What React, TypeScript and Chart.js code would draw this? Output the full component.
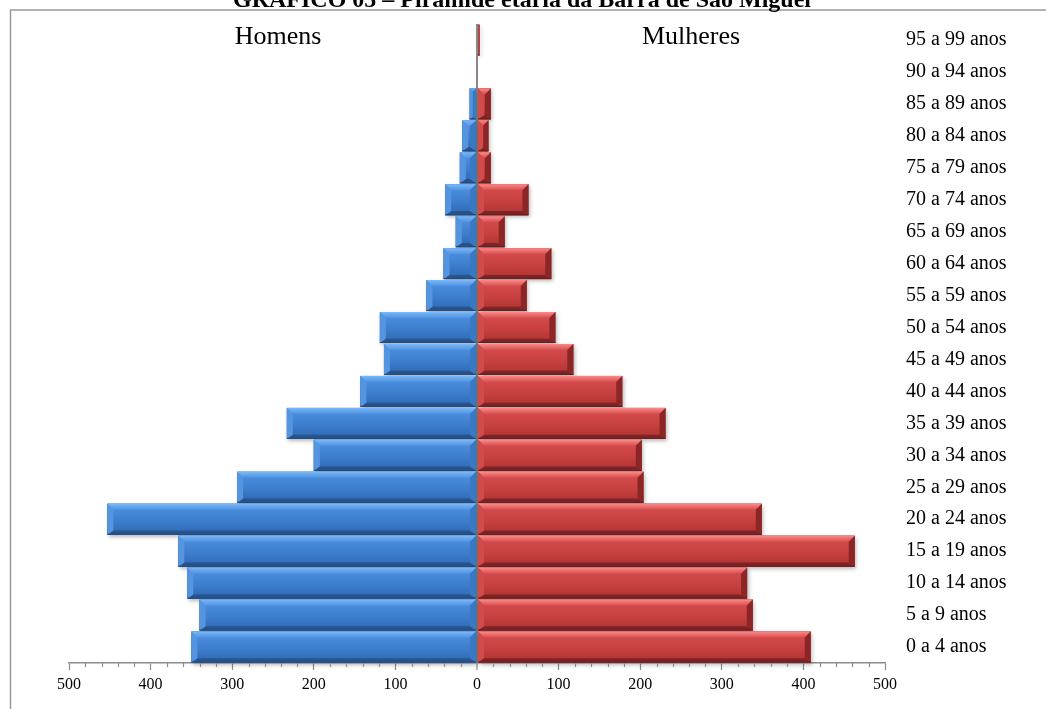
import React, { useEffect, useRef } from "react";
import { Chart, registerables } from "chart.js";

Chart.register(...registerables);

// ---- data ----
const ageGroups = [
  "0 a 4 anos", "5 a 9 anos", "10 a 14 anos", "15 a 19 anos", "20 a 24 anos",
  "25 a 29 anos", "30 a 34 anos", "35 a 39 anos", "40 a 44 anos", "45 a 49 anos",
  "50 a 54 anos", "55 a 59 anos", "60 a 64 anos", "65 a 69 anos", "70 a 74 anos",
  "75 a 79 anos", "80 a 84 anos", "85 a 89 anos", "90 a 94 anos", "95 a 99 anos",
];
const menValues = [350, 340, 355, 366, 453, 294, 200, 233, 143, 114, 119, 62, 41, 26, 39, 21, 18, 9, 0, 0];
const womenValues = [409, 338, 331, 463, 349, 204, 202, 231, 178, 118, 96, 61, 91, 34, 63, 17, 14, 17, 1, 3];
const seriesNames = ["Homens", "Mulheres"];
const chartTitle = "GRÁFICO 05 – Pirâmide etária da Barra de São Miguel";
const axisMin = -500;
const axisMax = 500;
const majorStep = 100;
const minorStep = 20;

const FONT = "'Liberation Serif', 'Times New Roman', serif";
const AXIS_GRAY = "#8c8c8c";

const palettes = [
  { base: "#3d7ecf", light: "#7ab8f8", top: "#4f93e2", bottom: "#2f66ab", dark: "#214a82", left: "#5595e0", right: "#3a78c4" },
  { base: "#c84040", light: "#fa8a8a", top: "#d84e4e", bottom: "#aa3333", dark: "#6c1b1b", left: "#d04c4c", right: "#8c2626" },
];

const bevelPlugin = {
  id: "bevelBars",
  afterDatasetsDraw(chart: any) {
    const ctx: CanvasRenderingContext2D = chart.ctx;
    const bars: any[] = [];
    chart.data.datasets.forEach((_: any, di: number) => {
      const meta = chart.getDatasetMeta(di);
      meta.data.forEach((el: any) => {
        const p = el.getProps(["x", "y", "base", "height"], true);
        const l = Math.min(p.x, p.base);
        const r = Math.max(p.x, p.base);
        const t = p.y - p.height / 2;
        const b = p.y + p.height / 2;
        if (r - l < 0.3) return;
        bars.push({ l, r, t, b, pal: palettes[di] });
      });
    });
    ctx.save();
    // shadows
    bars.forEach(({ l, r, t, b }) => {
      ctx.save();
      ctx.shadowColor = "rgba(0,0,0,0.28)";
      ctx.shadowBlur = 4;
      ctx.shadowOffsetX = 1.5;
      ctx.shadowOffsetY = 2;
      ctx.fillStyle = "#888";
      ctx.fillRect(l, t, r - l, b - t);
      ctx.restore();
    });
    // bodies
    bars.forEach(({ l, r, t, b, pal }) => {
      const w = r - l;
      const h = b - t;
      const bv = Math.max(0.5, Math.min(6, w / 2, h / 4));
      const g = ctx.createLinearGradient(0, t, 0, b);
      g.addColorStop(0, pal.top);
      g.addColorStop(0.55, pal.base);
      g.addColorStop(1, pal.bottom);
      ctx.fillStyle = g;
      ctx.fillRect(l, t, w, h);
      // top bevel
      const gt = ctx.createLinearGradient(0, t, 0, t + bv);
      gt.addColorStop(0, pal.light);
      gt.addColorStop(1, pal.top);
      ctx.fillStyle = gt;
      ctx.beginPath();
      ctx.moveTo(l, t); ctx.lineTo(r, t); ctx.lineTo(r - bv, t + bv); ctx.lineTo(l + bv, t + bv); ctx.closePath();
      ctx.fill();
      // bottom bevel
      ctx.fillStyle = pal.dark;
      ctx.globalAlpha = 0.7;
      ctx.beginPath();
      ctx.moveTo(l, b); ctx.lineTo(r, b); ctx.lineTo(r - bv, b - bv * 0.7); ctx.lineTo(l + bv, b - bv * 0.7); ctx.closePath();
      ctx.fill();
      ctx.globalAlpha = 1;
      // left bevel
      ctx.fillStyle = pal.left;
      ctx.beginPath();
      ctx.moveTo(l, t); ctx.lineTo(l + bv, t + bv); ctx.lineTo(l + bv, b - bv * 0.7); ctx.lineTo(l, b); ctx.closePath();
      ctx.fill();
      // right bevel
      ctx.fillStyle = pal.right;
      ctx.beginPath();
      ctx.moveTo(r, t); ctx.lineTo(r - bv, t + bv); ctx.lineTo(r - bv, b - bv * 0.7); ctx.lineTo(r, b); ctx.closePath();
      ctx.fill();
      // edge line
      ctx.strokeStyle = pal.dark;
      ctx.lineWidth = 1;
      ctx.beginPath();
      ctx.moveTo(l, b - 0.5); ctx.lineTo(r, b - 0.5);
      ctx.stroke();
    });
    ctx.restore();
  },
};

const decorPlugin = {
  id: "decor",
  beforeDraw(chart: any) {
    const ctx: CanvasRenderingContext2D = chart.ctx;
    ctx.save();
    ctx.strokeStyle = "#9a9a9a";
    ctx.lineWidth = 1.5;
    ctx.beginPath();
    ctx.moveTo(10.5, chart.height);
    ctx.lineTo(10.5, 10);
    ctx.lineTo(chart.width, 10);
    ctx.stroke();
    ctx.restore();
  },
  afterDraw(chart: any) {
    const ctx: CanvasRenderingContext2D = chart.ctx;
    const xs = chart.scales.x;
    ctx.save();
    // minor ticks
    ctx.strokeStyle = AXIS_GRAY;
    ctx.lineWidth = 1.2;
    for (let v = axisMin; v <= axisMax; v += minorStep) {
      if (v % majorStep === 0) continue;
      const px = Math.round(xs.getPixelForValue(v)) + 0.5;
      ctx.beginPath();
      ctx.moveTo(px, xs.top);
      ctx.lineTo(px, xs.top + 4);
      ctx.stroke();
    }
    // title
    ctx.fillStyle = "#000";
    ctx.textAlign = "center";
    ctx.textBaseline = "alphabetic";
    ctx.font = `bold 24px ${FONT}`;
    ctx.fillText(chartTitle, 522, 7);
    // side labels
    ctx.font = `26px ${FONT}`;
    ctx.fillText(seriesNames[0], 278, 44);
    ctx.fillText(seriesNames[1], 691, 44);
    ctx.restore();
  },
};

export default function App() {
  const canvasRef = useRef<HTMLCanvasElement | null>(null);

  useEffect(() => {
    if (!canvasRef.current) return;
    Chart.defaults.font.family = FONT;
    const chart = new Chart(canvasRef.current, {
      type: "bar",
      data: {
        labels: ageGroups,
        datasets: [
          {
            label: seriesNames[0],
            data: menValues.map((v) => -v),
            backgroundColor: palettes[0].base,
            borderWidth: 0,
            categoryPercentage: 1,
            barPercentage: 0.97,
          },
          {
            label: seriesNames[1],
            data: womenValues,
            backgroundColor: palettes[1].base,
            borderWidth: 0,
            categoryPercentage: 1,
            barPercentage: 0.97,
          },
        ],
      },
      options: {
        indexAxis: "y",
        responsive: false,
        animation: false,
        layout: { padding: { left: 69, top: 24, right: 0, bottom: 0 } },
        plugins: {
          legend: { display: false },
          tooltip: { enabled: false },
          title: { display: false },
        },
        scales: {
          x: {
            type: "linear",
            min: axisMin,
            max: axisMax,
            stacked: true,
            z: 1,
            ticks: {
              stepSize: majorStep,
              autoSkip: false,
              maxRotation: 0,
              padding: 5,
              color: "#000",
              font: { family: FONT, size: 16 },
              callback: (v: any) => String(Math.abs(Number(v))),
            },
            grid: {
              drawOnChartArea: true,
              color: (c: any) => (c.tick && c.tick.value === 0 ? AXIS_GRAY : "rgba(0,0,0,0)"),
              lineWidth: (c: any) => (c.tick && c.tick.value === 0 ? 2 : 1),
              tickColor: AXIS_GRAY,
              tickLength: 7,
              tickWidth: 1.2,
            },
            border: { display: true, color: AXIS_GRAY, width: 1.5 },
            afterFit: (s: any) => {
              s.height = 46;
            },
          },
          y: {
            type: "category",
            stacked: true,
            reverse: true,
            position: "right",
            grid: { display: false, drawTicks: false },
            border: { display: false },
            ticks: {
              autoSkip: false,
              padding: 21,
              color: "#000",
              font: { family: FONT, size: 20 },
            },
            afterFit: (s: any) => {
              s.width = 161;
              s.paddingTop = 0;
              s.paddingBottom = 0;
            },
          },
        },
      } as any,
      plugins: [bevelPlugin, decorPlugin],
    });
    return () => chart.destroy();
  }, []);

  return (
    <div style={{ position: "absolute", left: 0, top: 0, width: 1046, height: 709, background: "#fff" }}>
      <canvas ref={canvasRef} width={1046} height={709} style={{ display: "block", width: 1046, height: 709 }} />
    </div>
  );
}
